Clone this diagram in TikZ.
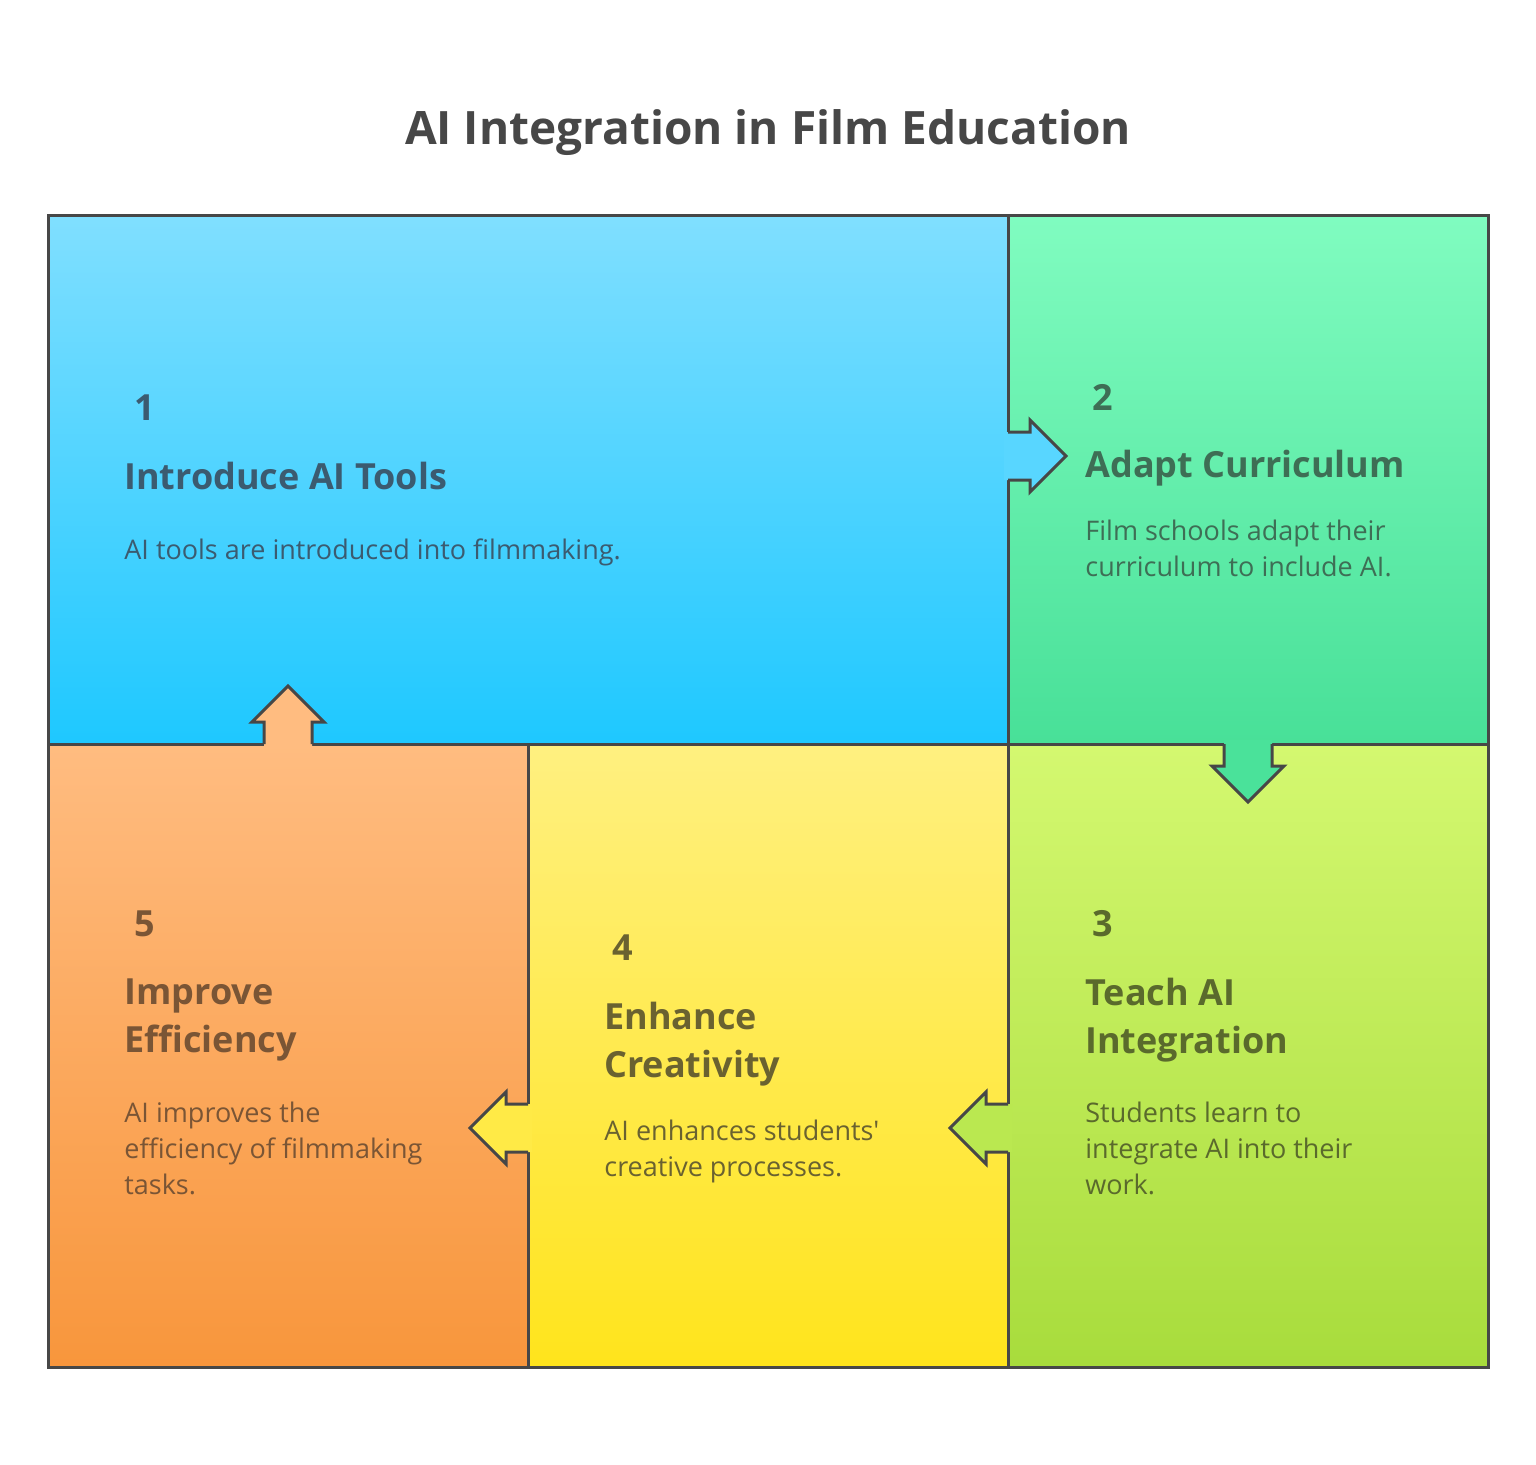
\documentclass[tikz,border=0pt]{standalone}
\usepackage{fontspec}
\setmainfont{Liberation Sans}
\newfontfamily\headfont{Open Sans}
\definecolor{edge}{HTML}{474747}
\definecolor{txtA}{HTML}{3B5B70}
\definecolor{txtB}{HTML}{3E6E55}
\definecolor{txtC}{HTML}{5A6A2C}
\definecolor{txtD}{HTML}{6A6230}
\definecolor{txtE}{HTML}{7A5535}
\tikzset{
  panel/.style={draw=edge, line width=1.5pt},
  arrowfill/.style={line width=1.5pt, draw=edge, line join=miter},
  numtext/.style={anchor=west, inner sep=0pt, font=\headfont\fontsize{18}{22}\selectfont\bfseries},
  headtext/.style={anchor=north west, inner sep=0pt, align=left, font=\headfont\fontsize{18}{24}\selectfont\bfseries},
  bodytext/.style={anchor=north west, inner sep=0pt, align=left, font=\headfont\fontsize{13.5}{18}\selectfont}
}
\begin{document}
\begin{tikzpicture}[x=0.5pt, y=-0.5pt]
  \useasboundingbox[fill=white] (0,0) rectangle (1536,1464);
  \node (title) at (768,133) {\headfont\fontsize{23}{28}\selectfont\bfseries\color{edge}AI Integration in Film Education};

  % panels
  \shade[top color={rgb,255:red,128;green,223;blue,255}, bottom color={rgb,255:red,30;green,200;blue,255}] (48,215) rectangle (1008,744);
  \shade[top color={rgb,255:red,128;green,252;blue,192}, bottom color={rgb,255:red,72;green,224;blue,152}] (1008,215) rectangle (1488,744);
  \shade[top color={rgb,255:red,212;green,248;blue,112}, bottom color={rgb,255:red,168;green,220;blue,60}] (1008,744) rectangle (1488,1367);
  \shade[top color={rgb,255:red,255;green,240;blue,128}, bottom color={rgb,255:red,255;green,228;blue,28}] (528,744) rectangle (1008,1367);
  \shade[top color={rgb,255:red,255;green,188;blue,128}, bottom color={rgb,255:red,248;green,150;blue,60}] (48,744) rectangle (528,1367);
  \draw[panel] (48,215) rectangle (1488,1367);
  \draw[panel] (1008,215) -- (1008,1367);
  \draw[panel] (48,744) -- (1488,744);
  \draw[panel] (528,744) -- (528,1367);

  % arrows
  \fill[fill={rgb,255:red,88;green,214;blue,255}] (1004,432) -- (1030,432) -- (1030,420) -- (1066,456) -- (1030,492) -- (1030,480) -- (1004,480) -- cycle;
  \draw[arrowfill] (1008,432) -- (1030,432) -- (1030,420) -- (1066,456) -- (1030,492) -- (1030,480) -- (1008,480);
  \fill[fill={rgb,255:red,74;green,226;blue,154}] (1224,740) -- (1224,766) -- (1212,766) -- (1248,802) -- (1284,766) -- (1272,766) -- (1272,740) -- cycle;
  \draw[arrowfill] (1224,744) -- (1224,766) -- (1212,766) -- (1248,802) -- (1284,766) -- (1272,766) -- (1272,744);
  \fill[fill={rgb,255:red,186;green,232;blue,80}] (1012,1104) -- (986,1104) -- (986,1092) -- (950,1128) -- (986,1164) -- (986,1152) -- (1012,1152) -- cycle;
  \draw[arrowfill] (1008,1104) -- (986,1104) -- (986,1092) -- (950,1128) -- (986,1164) -- (986,1152) -- (1008,1152);
  \fill[fill={rgb,255:red,255;green,234;blue,70}] (532,1104) -- (506,1104) -- (506,1092) -- (470,1128) -- (506,1164) -- (506,1152) -- (532,1152) -- cycle;
  \draw[arrowfill] (528,1104) -- (506,1104) -- (506,1092) -- (470,1128) -- (506,1164) -- (506,1152) -- (528,1152);
  \fill[fill={rgb,255:red,255;green,188;blue,128}] (264,748) -- (264,722) -- (252,722) -- (288,686) -- (324,722) -- (312,722) -- (312,748) -- cycle;
  \draw[arrowfill] (264,744) -- (264,722) -- (252,722) -- (288,686) -- (324,722) -- (312,722) -- (312,744);

  % texts
  \node[numtext, text=txtA] (num1) at (134,408) {1};
  \node[headtext, text=txtA] (head1) at (124,462) {Introduce AI Tools};
  \node[bodytext, text=txtA] (body1) at (124,538) {AI tools are introduced into filmmaking.};

  \node[numtext, text=txtB] (num2) at (1092,397) {2};
  \node[headtext, text=txtB] (head2) at (1085,450) {Adapt Curriculum};
  \node[bodytext, text=txtB] (body2) at (1085,520) {Film schools adapt their\\curriculum to include AI.};

  \node[numtext, text=txtC] (num3) at (1092,924) {3};
  \node[headtext, text=txtC] (head3) at (1085,978) {Teach AI\\Integration};
  \node[bodytext, text=txtC] (body3) at (1085,1102) {Students learn to\\integrate AI into their\\work.};

  \node[numtext, text=txtD] (num4) at (612,948) {4};
  \node[headtext, text=txtD] (head4) at (604,1002) {Enhance\\Creativity};
  \node[bodytext, text=txtD] (body4) at (604,1120) {AI enhances students'\\creative processes.};

  \node[numtext, text=txtE] (num5) at (134,924) {5};
  \node[headtext, text=txtE] (head5) at (124,978) {Improve\\Efficiency};
  \node[bodytext, text=txtE] (body5) at (124,1102) {AI improves the\\efficiency of filmmaking\\tasks.};
\end{tikzpicture}
\end{document}
